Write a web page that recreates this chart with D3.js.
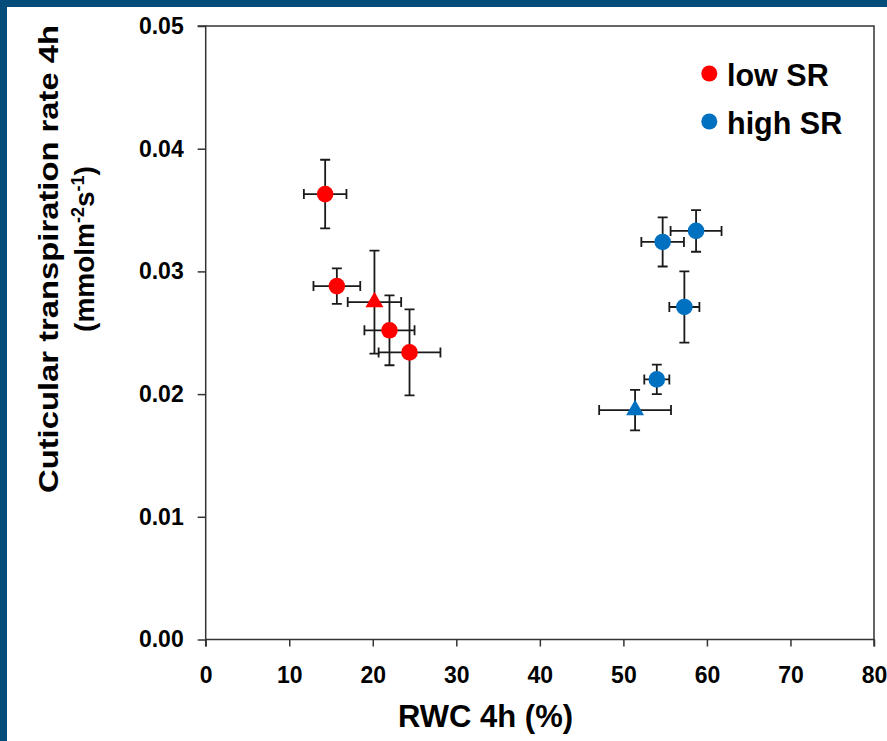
<!DOCTYPE html>
<html>
<head>
<meta charset="utf-8">
<script src="https://cdn.jsdelivr.net/npm/d3@7"></script>
<style>
  html, body { margin: 0; padding: 0; background: #ffffff; }
  svg { display: block; }
  text { font-family: "Liberation Sans", Arial, sans-serif; font-weight: bold; fill: #000; }
</style>
</head>
<body>
<svg id="chart" width="887" height="741"></svg>
<script>
// ---------- data ----------
const seriesNames = ["low SR", "high SR"];
const seriesColors = ["#ff0000", "#0070c0"];

// low SR
const lowX    = [14.3, 15.7, 20.2, 22.0, 24.4];
const lowY    = [0.0363, 0.0288, 0.0275, 0.0252, 0.0234];
const lowXErr = [2.55, 2.8, 3.2, 3.0, 3.7];
const lowYErr = [0.0028, 0.00145, 0.0042, 0.00285, 0.0035];
const lowShape = ["circle", "circle", "triangle", "circle", "circle"];

// high SR
const highX    = [54.7, 58.7, 57.3, 54.0, 51.4];
const highY    = [0.0324, 0.0333, 0.0271, 0.0212, 0.0187];
const highXErr = [2.55, 3.05, 1.8, 1.5, 4.3];
const highYErr = [0.0020, 0.0017, 0.0029, 0.0012, 0.00165];
const highShape = ["circle", "circle", "circle", "circle", "triangle"];

const xTicks = [0, 10, 20, 30, 40, 50, 60, 70, 80];
const yTicks = [0, 0.01, 0.02, 0.03, 0.04, 0.05];

const xTitle = "RWC 4h (%)";
const yTitle1 = "Cuticular transpiration rate 4h";

// ---------- drawing ----------
const svg = d3.select("#chart");

// frame (dark blue border on top and left)
svg.append("rect").attr("x", 0).attr("y", 0).attr("width", 887).attr("height", 741).attr("fill", "#044c7a");
svg.append("rect").attr("x", 7).attr("y", 7).attr("width", 880).attr("height", 734).attr("fill", "#ffffff");

const x = d3.scaleLinear().domain([0, 80]).range([205.7, 874]);
const y = d3.scaleLinear().domain([0, 0.05]).range([639.5, 26]);

const axisColor = "#333333";

// y axis
const gy = svg.append("g").attr("transform", `translate(${x(0)},0)`)
  .call(d3.axisLeft(y).tickValues(yTicks).tickFormat(d3.format(".2f")).tickSize(8).tickPadding(14));
// x axis
const gx = svg.append("g").attr("transform", `translate(0,${y(0)})`)
  .call(d3.axisBottom(x).tickValues(xTicks).tickFormat(d3.format("d")).tickSize(7).tickPadding(20));

[gy, gx].forEach(g => {
  g.select(".domain").attr("stroke", axisColor).attr("stroke-width", 1.5);
  g.selectAll(".tick line").attr("stroke", axisColor).attr("stroke-width", 1.5);
  g.selectAll(".tick text").attr("font-size", 23).attr("font-family", "Liberation Sans, Arial, sans-serif")
    .attr("font-weight", "bold").attr("fill", "#000");
});
gy.select(".domain").attr("d", `M-8,${y(0.05)}H0V${y(0)}`);
gx.select(".domain").attr("d", `M${x(0)},7V0H${x(80)}V7`);

// top and right frame lines
svg.append("path")
  .attr("d", `M${x(0)},${y(0.05)}H${x(80)}V${y(0)}`)
  .attr("fill", "none").attr("stroke", axisColor).attr("stroke-width", 1.5);

// points
const groups = [
  { xs: lowX, ys: lowY, xe: lowXErr, ye: lowYErr, shapes: lowShape, color: seriesColors[0] },
  { xs: highX, ys: highY, xe: highXErr, ye: highYErr, shapes: highShape, color: seriesColors[1] }
];

const cap = 5;
const errG = svg.append("g").attr("stroke", "#1a1a1a").attr("stroke-width", 1.8).attr("fill", "none");
const markG = svg.append("g");

groups.forEach(gr => {
  gr.xs.forEach((xv, i) => {
    const yv = gr.ys[i];
    const px = x(xv), py = y(yv);
    const y1 = y(yv - gr.ye[i]), y2 = y(yv + gr.ye[i]);
    const x1 = x(xv - gr.xe[i]), x2 = x(xv + gr.xe[i]);
    errG.append("path").attr("d",
      `M${px},${y1}V${y2}M${px - cap},${y1}H${px + cap}M${px - cap},${y2}H${px + cap}` +
      `M${x1},${py}H${x2}M${x1},${py - cap}V${py + cap}M${x2},${py - cap}V${py + cap}`);
  });
  gr.xs.forEach((xv, i) => {
    const px = x(xv), py = y(gr.ys[i]);
    if (gr.shapes[i] === "circle") {
      markG.append("circle").attr("cx", px).attr("cy", py).attr("r", 8.3).attr("fill", gr.color);
    } else {
      markG.append("path")
        .attr("d", d3.symbol().type(d3.symbolTriangle).size(140)())
        .attr("transform", `translate(${px},${py})`)
        .attr("fill", gr.color);
    }
  });
});

// legend
const legY = [73.5, 121.5];
seriesNames.forEach((name, i) => {
  svg.append("circle").attr("cx", 709.3).attr("cy", legY[i]).attr("r", 8).attr("fill", seriesColors[i]);
  svg.append("text").attr("x", 727).attr("y", legY[i] + 12.5)
    .attr("font-size", 30.5).text(name);
});

// x title
svg.append("text").attr("x", 485.5).attr("y", 727).attr("text-anchor", "middle")
  .attr("font-size", 31).text(xTitle);

// y title
svg.append("text")
  .attr("transform", "translate(58,259) rotate(-90)")
  .attr("text-anchor", "middle")
  .attr("font-size", 28)
  .attr("textLength", 468).attr("lengthAdjust", "spacingAndGlyphs")
  .text(yTitle1);

const t2 = svg.append("text")
  .attr("transform", "translate(94,249) rotate(-90)")
  .attr("text-anchor", "middle")
  .attr("font-size", 28);
t2.append("tspan").text("(mmolm");
t2.append("tspan").attr("font-size", 18).attr("dy", -10).text("-2");
t2.append("tspan").attr("dy", 10).text("s");
t2.append("tspan").attr("font-size", 18).attr("dy", -10).text("-1");
t2.append("tspan").attr("dy", 10).text(")");
</script>
</body>
</html>
